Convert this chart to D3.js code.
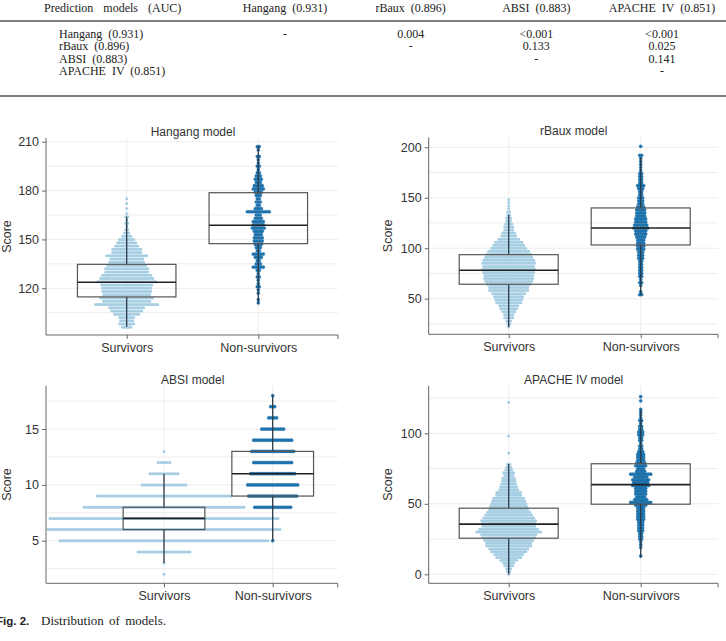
<!DOCTYPE html>
<html><head><meta charset="utf-8">
<script src="https://cdn.jsdelivr.net/npm/d3@7"></script>
<style>body{margin:0;background:#fff}svg{display:block}</style>
</head><body><svg id="c" width="726" height="641"></svg>
<script>
// ---------------- data ----------------
const tableHeader = ["Prediction models (AUC)", "Hangang (0.931)", "rBaux (0.896)", "ABSI (0.883)", "APACHE IV (0.851)"];
const tableModels = ["Hangang (0.931)", "rBaux (0.896)", "ABSI (0.883)", "APACHE IV (0.851)"];
const pValues = [
  ["-", "0.004", "<0.001", "<0.001"],
  ["", "-", "0.133", "0.025"],
  ["", "", "-", "0.141"],
  ["", "", "", "-"]
];
const categories = ["Survivors", "Non-survivors"];
const panelTitles = ["Hangang model", "rBaux model", "ABSI model", "APACHE IV model"];
const yLabel = "Score";
const hangangTicks = [120, 150, 180, 210];
const rbauxTicks = [50, 100, 150, 200];
const absiTicks = [5, 10, 15];
const apacheTicks = [0, 50, 100];
const captionBold = "Fig. 2.";
const captionText = "Distribution of models.";

// box stats: [lower whisker, Q1, median, Q3, upper whisker]
const hangangBoxSurvivors = [96.4, 114.7, 123.7, 134.7, 164];
const hangangBoxNonSurvivors = [110.8, 147.4, 158.7, 178.7, 207.3];
const rbauxBoxSurvivors = [22, 64.3, 78.1, 93.6, 133];
const rbauxBoxNonSurvivors = [53.7, 103.2, 120, 139.9, 189.9];
const absiBoxSurvivors = [3, 6, 7, 8, 11];
const absiBoxNonSurvivors = [5, 9, 11, 13, 18];
const apacheBoxSurvivors = [0, 25.6, 35.6, 46.9, 78.2];
const apacheBoxNonSurvivors = [11.7, 49.7, 63.6, 78.4, 116.9];

// swarm rows: [score, number of patients]
const hangangSurvivors = [[175,1],[172,1],[169,1],[166,1],[164,2],[162,1],[160,2],[158,1],[156,2],[154,3],[152,5],[150,8],[148,10],[146,12],[144,15],[142,15],[140,21],[138,17],[136,18],[134,20],[132,22],[130,22],[128,25],[126,27],[124,30],[122,26],[120,25],[118,25],[116,24],[114,27],[112,24],[110,32],[108,18],[106,16],[104,13],[102,8],[100,7],[98,8],[96,5]];
const hangangNonSurvivors = [[207,2],[205,1],[201,2],[199,1],[197,1],[195,2],[193,1],[191,2],[189,3],[187,4],[185,3],[183,5],[181,6],[179,4],[177,3],[175,2],[173,3],[171,2],[169,4],[167,12],[165,3],[163,4],[161,6],[159,6],[157,7],[155,5],[153,4],[151,5],[149,5],[147,4],[145,3],[143,2],[141,6],[139,4],[137,2],[135,3],[133,6],[131,2],[129,1],[127,2],[125,1],[123,1],[121,2],[119,1],[117,1],[113,1],[111,1]];
const rbauxSurvivors = [[148,1],[145,1],[142,1],[139,1],[136,2],[133,2],[130,3],[127,3],[124,4],[121,5],[118,5],[115,7],[112,8],[109,11],[106,14],[103,16],[100,18],[97,21],[94,23],[91,24],[88,26],[85,27],[82,26],[79,27],[76,26],[73,25],[70,25],[67,24],[64,22],[61,20],[58,20],[55,17],[52,15],[49,14],[46,13],[43,10],[40,9],[37,7],[34,5],[31,5],[28,3],[25,2],[22,1]];
const rbauxNonSurvivors = [[201,1],[192,2],[189,1],[186,1],[183,1],[180,1],[177,1],[174,2],[171,2],[168,2],[165,2],[162,4],[159,3],[156,2],[153,2],[150,3],[147,3],[144,3],[141,4],[138,5],[135,5],[132,5],[129,6],[126,6],[123,7],[120,8],[117,6],[114,6],[111,5],[108,4],[105,4],[102,4],[99,4],[96,3],[93,3],[90,3],[87,2],[84,2],[81,2],[78,2],[75,2],[72,2],[69,1],[66,2],[63,1],[57,1],[54,2]];
const absiSurvivors = [[2,1],[3,1],[4,27],[5,105],[6,117],[7,115],[8,81],[9,68],[10,23],[11,15],[12,7],[13,1]];
const absiNonSurvivors = [[5,1],[8,19],[9,25],[10,26],[11,23],[12,20],[13,22],[14,20],[15,12],[16,5],[17,3],[18,1]];
const apacheSurvivors = [[122,1],[98,1],[86,1],[78,2],[76,3],[74,4],[72,6],[70,5],[68,7],[66,7],[64,8],[62,9],[60,10],[58,13],[56,13],[54,16],[52,17],[50,18],[48,19],[46,20],[44,22],[42,24],[40,26],[38,28],[36,27],[34,27],[32,30],[30,33],[28,28],[26,27],[24,25],[22,23],[20,23],[18,20],[16,18],[14,15],[12,13],[10,9],[8,6],[6,5],[4,3],[2,2],[0,1]];
const apacheNonSurvivors = [[126,1],[123,1],[117,1],[115,1],[113,1],[111,1],[109,2],[107,1],[105,2],[103,2],[101,3],[99,3],[97,2],[95,2],[93,1],[91,2],[89,2],[87,3],[85,4],[83,4],[81,4],[79,5],[77,6],[75,4],[73,5],[71,11],[69,7],[67,9],[65,8],[63,9],[61,6],[59,6],[57,6],[55,5],[53,7],[51,11],[49,6],[47,4],[45,4],[43,4],[41,4],[39,4],[37,3],[35,3],[33,3],[31,3],[29,2],[27,2],[25,2],[23,1],[21,1],[19,1],[13,1]];

// ---------------- layout ----------------
const svg = d3.select("#c");
const serif = "'Liberation Serif','DejaVu Serif',serif";
const sans = "'Liberation Sans',Arial,sans-serif";
const survColor = "#a6cee3", nonColor = "#1f78b4";

// table
const colX = d3.scalePoint().domain(d3.range(4)).range([285, 662]);
const tb = svg.append("g").attr("font-family", serif).attr("font-size", 12).attr("fill", "#222").style("word-spacing", "3px");
tb.append("text").attr("x", 44).attr("y", 12).style("word-spacing", "7px").text(tableHeader[0]);
tableHeader.slice(1).forEach((h, i) => tb.append("text").attr("x", colX(i)).attr("y", 12).attr("text-anchor", "middle").text(h));
svg.append("line").attr("x1", 0).attr("x2", 726).attr("y1", 21).attr("y2", 21).attr("stroke", "#555").attr("stroke-width", 1.6);
const rowY = d3.scalePoint().domain(d3.range(4)).range([37.5, 75]);
tableModels.forEach((m, r) => {
  tb.append("text").attr("x", 59).attr("y", rowY(r)).text(m);
  pValues[r].forEach((v, c) => { if (v) tb.append("text").attr("x", colX(c)).attr("y", rowY(r)).attr("text-anchor", "middle").text(v); });
});
svg.append("line").attr("x1", 0).attr("x2", 726).attr("y1", 96).attr("y2", 96).attr("stroke", "#555").attr("stroke-width", 1.6);

const panels = [
  {title: panelTitles[0], ticks: hangangTicks, minor: 15, domain: [91.3, 212.3], ax: [46, 338], ay: [138, 335], cx: [126.7, 258.3], bw: 98.5, titleX: 193, labelX: 7,
   surv: hangangSurvivors, non: hangangNonSurvivors, boxS: hangangBoxSurvivors, boxN: hangangBoxNonSurvivors},
  {title: panelTitles[1], ticks: rbauxTicks, minor: 25, domain: [14.7, 209.9], ax: [428.7, 718], ay: [137.3, 334.3], cx: [508.7, 640.7], bw: 99, titleX: 573.7, labelX: 388,
   surv: rbauxSurvivors, non: rbauxNonSurvivors, boxS: rbauxBoxSurvivors, boxN: rbauxBoxNonSurvivors},
  {title: panelTitles[2], ticks: absiTicks, minor: 2.5, domain: [1.19, 18.88], ax: [46, 337.7], ay: [385.7, 583.3], cx: [164, 272.7], bw: 81.7, titleX: 192.7, labelX: 7,
   surv: absiSurvivors, non: absiNonSurvivors, boxS: absiBoxSurvivors, boxN: absiBoxNonSurvivors},
  {title: panelTitles[3], ticks: apacheTicks, minor: 25, domain: [-6.38, 133.76], ax: [428.7, 718], ay: [385.7, 583.3], cx: [508.7, 640.7], bw: 99, titleX: 573.7, labelX: 388,
   surv: apacheSurvivors, non: apacheNonSurvivors, boxS: apacheBoxSurvivors, boxN: apacheBoxNonSurvivors}
];

const spacing = 2;
panels.forEach(p => {
  const g = svg.append("g");
  const y = d3.scaleLinear().domain(p.domain).range([p.ay[1], p.ay[0]]);
  const x = d3.scalePoint().domain(categories).range(p.cx);
  // grid
  const minorVals = d3.range(Math.ceil(p.domain[0] / p.minor) * p.minor, p.domain[1], p.minor);
  g.selectAll(".hg").data(minorVals).join("line")
    .attr("x1", p.ax[0]).attr("x2", p.ax[1]).attr("y1", d => y(d)).attr("y2", d => y(d))
    .attr("stroke", "#ededed").attr("stroke-width", 1);
  g.selectAll(".vg").data(categories).join("line")
    .attr("x1", d => x(d)).attr("x2", d => x(d)).attr("y1", p.ay[0]).attr("y2", p.ay[1])
    .attr("stroke", "#ededed").attr("stroke-width", 1);
  // swarm dots
  const dots = (rows, cat) => rows.flatMap(([s, n]) => d3.range(n).map(i => ({x: x(cat) + (i - (n - 1) / 2) * spacing, y: y(s)})));
  g.append("g").selectAll("circle").data(dots(p.surv, categories[0])).join("circle")
    .attr("cx", d => d.x).attr("cy", d => d.y).attr("r", 1.5).attr("fill", survColor);
  g.append("g").selectAll("circle").data(dots(p.non, categories[1])).join("circle")
    .attr("cx", d => d.x).attr("cy", d => d.y).attr("r", 1.6).attr("fill", nonColor)
    .attr("stroke", "#175f92").attr("stroke-width", 0.3);
  // boxes
  [[categories[0], p.boxS], [categories[1], p.boxN]].forEach(([cat, b]) => {
    const cx = x(cat);
    g.append("line").attr("x1", cx).attr("x2", cx).attr("y1", y(b[0])).attr("y2", y(b[1])).attr("stroke", "#2b3a48").attr("stroke-width", 1.3);
    g.append("line").attr("x1", cx).attr("x2", cx).attr("y1", y(b[3])).attr("y2", y(b[4])).attr("stroke", "#2b3a48").attr("stroke-width", 1.3);
    g.append("rect").attr("x", cx - p.bw / 2).attr("width", p.bw).attr("y", y(b[3])).attr("height", y(b[1]) - y(b[3]))
      .attr("fill", "none").attr("stroke", "#555").attr("stroke-width", 1.2);
    g.append("line").attr("x1", cx - p.bw / 2).attr("x2", cx + p.bw / 2).attr("y1", y(b[2])).attr("y2", y(b[2])).attr("stroke", "#222").attr("stroke-width", 1.6);
  });
  // axes
  const ya = g.append("g").attr("transform", `translate(${p.ax[0]},0)`)
    .call(d3.axisLeft(y).tickValues(p.ticks).tickSize(4).tickPadding(3));
  ya.select(".domain").remove();
  g.append("line").attr("x1", p.ax[0]).attr("x2", p.ax[0]).attr("y1", p.ay[0]).attr("y2", p.ay[1]).attr("stroke", "#666");
  const xa = g.append("g").attr("transform", `translate(0,${p.ay[1]})`)
    .call(d3.axisBottom(x).tickSize(4).tickPadding(4));
  xa.select(".domain").remove();
  g.append("line").attr("x1", p.ax[0]).attr("x2", p.ax[1]).attr("y1", p.ay[1]).attr("y2", p.ay[1]).attr("stroke", "#666");
  g.append("line").attr("x1", p.ax[1]).attr("x2", p.ax[1]).attr("y1", p.ay[1]).attr("y2", p.ay[1] + 4).attr("stroke", "#666");
  [ya, xa].forEach(a => {
    a.selectAll("text").attr("font-family", sans).attr("font-size", 12.5).attr("fill", "#333");
    a.selectAll("line").attr("stroke", "#666");
  });
  g.append("text").attr("x", p.titleX).attr("y", p.ay[0] - 2).attr("text-anchor", "middle")
    .attr("font-family", sans).attr("font-size", 12).attr("fill", "#333").text(p.title);
  g.append("text").attr("transform", `translate(${p.labelX + 4},${(p.ay[0] + p.ay[1]) / 2}) rotate(-90)`).attr("text-anchor", "middle")
    .attr("font-family", sans).attr("font-size", 12.5).attr("fill", "#333").text(yLabel);
});

// caption
svg.append("text").attr("x", -4).attr("y", 625).attr("font-family", sans).attr("font-weight", "bold").attr("font-size", 11.5).attr("fill", "#222").text(captionBold);
svg.append("text").attr("x", 41).attr("y", 625).attr("font-family", serif).attr("font-size", 13).attr("fill", "#222").style("word-spacing", "2px").text(captionText);
</script></body></html>
